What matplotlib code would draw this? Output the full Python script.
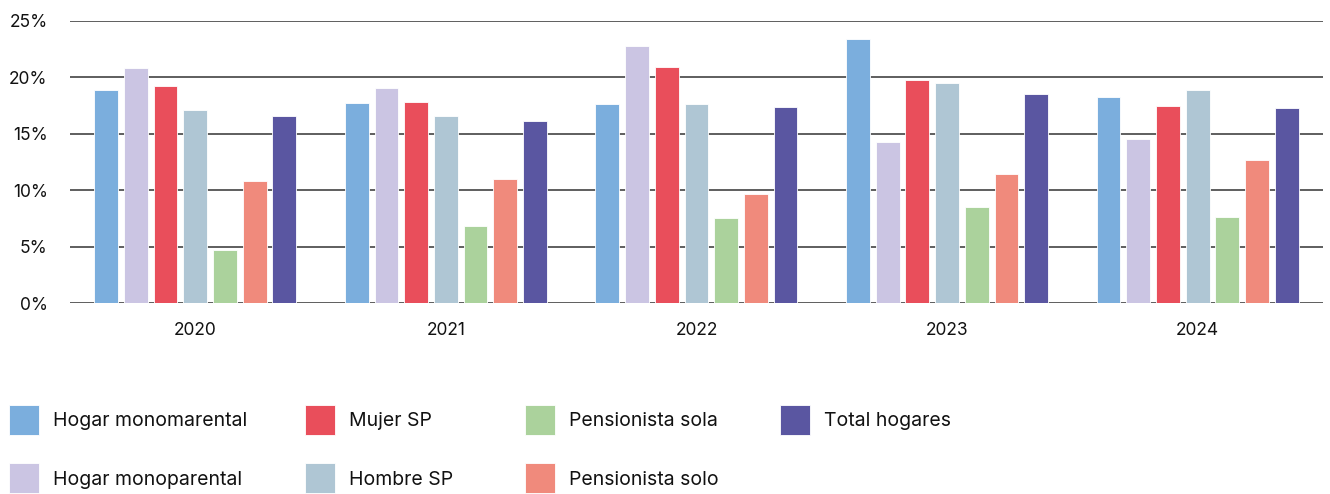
import matplotlib
matplotlib.use("Agg")
import matplotlib.pyplot as plt
import numpy as np

plt.rcParams['font.family'] = ['Inter', 'DejaVu Sans']

years = ['2020', '2021', '2022', '2023', '2024']
series_names = ['Hogar monomarental', 'Hogar monoparental', 'Mujer SP', 'Hombre SP',
                'Pensionista sola', 'Pensionista solo', 'Total hogares']
colors = ['#7BAEDD', '#CBC5E3', '#E94E5B', '#AFC6D4', '#ABD29C', '#F08A7C', '#5A56A1']

hogar_monomarental = [18.9, 17.7, 17.6, 23.4, 18.3]
hogar_monoparental = [20.8, 19.1, 22.8, 14.3, 14.5]
mujer_sp = [19.2, 17.8, 20.9, 19.8, 17.5]
hombre_sp = [17.1, 16.6, 17.6, 19.5, 18.9]
pensionista_sola = [4.7, 6.8, 7.5, 8.5, 7.6]
pensionista_solo = [10.8, 11.0, 9.7, 11.4, 12.7]
total_hogares = [16.6, 16.1, 17.4, 18.5, 17.3]

series = [hogar_monomarental, hogar_monoparental, mujer_sp, hombre_sp,
          pensionista_sola, pensionista_solo, total_hogares]

fig = plt.figure(figsize=(13.3, 4.94), dpi=100)
ax = fig.add_axes([0.0526, 0.3866, 0.9421, 0.5709])

x = np.arange(len(years))
pitch = 0.1185
width = 0.095
for i, (vals, name, c) in enumerate(zip(series, series_names, colors)):
    ax.bar(x + (i - 3) * pitch, vals, width, color=c, label=name,
           edgecolor='white', linewidth=0.6, zorder=3)

ax.set_xlim(-0.5, 4.5)
ax.set_ylim(0, 25)
ax.set_yticks([0, 5, 10, 15, 20, 25])
ax.set_yticklabels([f'{v}%' for v in [0, 5, 10, 15, 20, 25]], fontsize=12.5)
ax.set_xticks(x)
ax.set_xticklabels(years, fontsize=12.5)
ax.tick_params(axis='both', length=0, colors='#111111')
ax.tick_params(axis='y', pad=16)
ax.tick_params(axis='x', pad=14)
ax.yaxis.grid(True, color='#333333', linewidth=1.1, zorder=0)
ax.set_axisbelow(True)
for s in ax.spines.values():
    s.set_visible(False)

# Legend laid out as four fixed columns of up to two entries each
handles, labels = ax.get_legend_handles_labels()
column_x = [0.0068, 0.2293, 0.3947, 0.5865]
groups = [[0, 1], [2, 3], [4, 5], [6]]
for cx, idx in zip(column_x, groups):
    leg = fig.legend([handles[i] for i in idx], [labels[i] for i in idx],
                     loc='upper left', bbox_to_anchor=(cx, 0.18),
                     frameon=False, fontsize=14,
                     handlelength=1.55, handleheight=2.0, handletextpad=0.7,
                     labelspacing=1.45, borderaxespad=0, borderpad=0)
    for t in leg.get_texts():
        t.set_color('#111111')

fig.savefig('out.png', dpi=100)
